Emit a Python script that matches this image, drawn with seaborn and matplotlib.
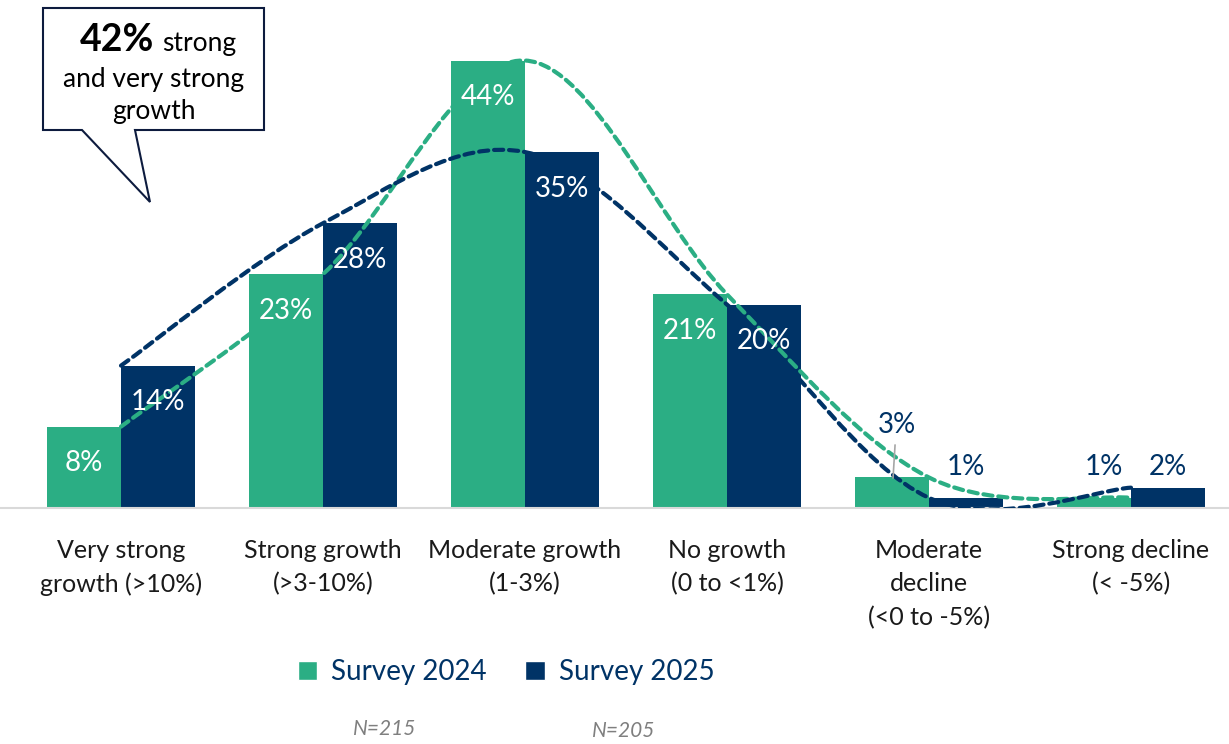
import matplotlib
matplotlib.use("Agg")
import matplotlib.pyplot as plt
import seaborn as sns
import pandas as pd
from matplotlib.path import Path
from matplotlib.patches import PathPatch, Patch, Polygon

# data
categories = ["Very strong\ngrowth (>10%)", "Strong growth\n(>3-10%)", "Moderate growth\n(1-3%)",
              "No growth\n(0 to <1%)", "Moderate\ndecline\n(<0 to -5%)", "Strong decline\n(< -5%)"]
surveys = ["Survey 2024", "Survey 2025"]
values_2024 = [8, 23, 44, 21, 3, 1]
values_2025 = [14, 28, 35, 20, 1, 2]
sample_sizes = ["N=215", "N=205"]

GREEN = "#2BAE84"
NAVY = "#003366"
FONT = ["Lato", "DejaVu Sans"]

df = pd.DataFrame({
    "category": categories * 2,
    "survey": [surveys[0]] * 6 + [surveys[1]] * 6,
    "value": values_2024 + values_2025,
})

sns.set_style("white")
plt.rcParams["font.family"] = FONT

W, H = 1229, 744
fig = plt.figure(figsize=(W / 100, H / 100), dpi=100)
base_px = 508
ax = fig.add_axes([0, 1 - base_px / H, 1, base_px / H])

sns.barplot(data=df, x="category", y="value", hue="survey", palette=[GREEN, NAVY],
            width=0.73, gap=0, saturation=1, legend=False, linewidth=0, ax=ax, zorder=2)

ax.set_xlim(-0.5 - 20 / 202, (W - 121) / 202)
ax.set_ylim(0, base_px / 10.17)
ax.set_xlabel("")
ax.set_ylabel("")
ax.set_yticks([])
for s in ["top", "left", "right"]:
    ax.spines[s].set_visible(False)
ax.spines["bottom"].set_color("#D9D9D9")
ax.spines["bottom"].set_linewidth(1.5)
ax.tick_params(axis="x", length=0, pad=22, labelsize=18, labelcolor="#1a1a1a")
for t in ax.get_xticklabels():
    t.set_linespacing(1.55)


# smoothed dashed trend lines through the values (excel-style smoothing)
def smooth_path(xs, ys):
    pts = list(zip(xs, ys))
    verts = [pts[0]]
    codes = [Path.MOVETO]
    n = len(pts)
    for i in range(n - 1):
        p0 = pts[i - 1] if i > 0 else pts[i]
        p1 = pts[i]
        p2 = pts[i + 1]
        p3 = pts[i + 2] if i + 2 < n else pts[i + 1]
        c1 = (p1[0] + (p2[0] - p0[0]) / 6, p1[1] + (p2[1] - p0[1]) / 6)
        c2 = (p2[0] - (p3[0] - p1[0]) / 6, p2[1] - (p3[1] - p1[1]) / 6)
        verts += [c1, c2, p2]
        codes += [Path.CURVE4] * 3
    return Path(verts, codes)


xs = list(range(len(categories)))
for vals, col in [(values_2024, GREEN), (values_2025, NAVY)]:
    ax.add_patch(PathPatch(smooth_path(xs, vals), fill=False, edgecolor=col, lw=3,
                           linestyle=(0, (2.2, 1.4)), capstyle="round", zorder=3))

# value labels
off = 0.1825
for i, (a, b) in enumerate(zip(values_2024, values_2025)):
    for v, x in [(a, i - off), (b, i + off)]:
        if v >= 5:
            ax.text(x, v - 3.6, f"{v}%", color="white", fontsize=20, ha="center", va="center", zorder=5)
ax.text(4 - off + 0.025, 8.2, f"{values_2024[4]}%", color=NAVY, fontsize=20, ha="center", va="center", zorder=5)
ax.plot([3.832, 3.822], [6.2, 2.95], color="#A6A6A6", lw=1.2, zorder=4)
ax.text(4 + off, 4.0, f"{values_2025[4]}%", color=NAVY, fontsize=20, ha="center", va="center", zorder=5)
ax.text(5 - off + 0.05, 4.0, f"{values_2024[5]}%", color=NAVY, fontsize=20, ha="center", va="center", zorder=5)
ax.text(5 + off, 4.0, f"{values_2025[5]}%", color=NAVY, fontsize=20, ha="center", va="center", zorder=5)

# legend
handles = [Patch(facecolor=GREEN, label=surveys[0]), Patch(facecolor=NAVY, label=surveys[1])]
fig.legend(handles=handles, loc="center", bbox_to_anchor=(506 / W, 1 - 672 / H), ncol=2,
           frameon=False, fontsize=20, labelcolor=NAVY, handlelength=0.7, handleheight=0.7,
           handletextpad=0.5, columnspacing=1.4)

fig.text(385 / W, 1 - 729 / H, sample_sizes[0], style="italic", color="#7F7F7F", fontsize=15, ha="center", va="center")
fig.text(624 / W, 1 - 731 / H, sample_sizes[1], style="italic", color="#7F7F7F", fontsize=15, ha="center", va="center")

# callout box
box_px = [(43, 8), (264, 8), (264, 130), (135, 130), (150, 202), (82, 130), (43, 130)]
fig.patches.append(Polygon([(x / W, 1 - y / H) for x, y in box_px], closed=True, transform=fig.transFigure,
                           facecolor="white", edgecolor="#0D1B3E", lw=1.5, zorder=10))
fig.text(154 / W, 1 - 40 / H, "42%", fontsize=27, fontweight="bold", color="black", ha="right", va="center", zorder=11)
fig.text(162 / W, 1 - 43 / H, "strong", fontsize=19, color="black", ha="left", va="center", zorder=11)
fig.text(154 / W, 1 - 79 / H, "and very strong", fontsize=19, color="black", ha="center", va="center", zorder=11)
fig.text(154 / W, 1 - 111 / H, "growth", fontsize=19, color="black", ha="center", va="center", zorder=11)

fig.savefig("out.png", dpi=100)
